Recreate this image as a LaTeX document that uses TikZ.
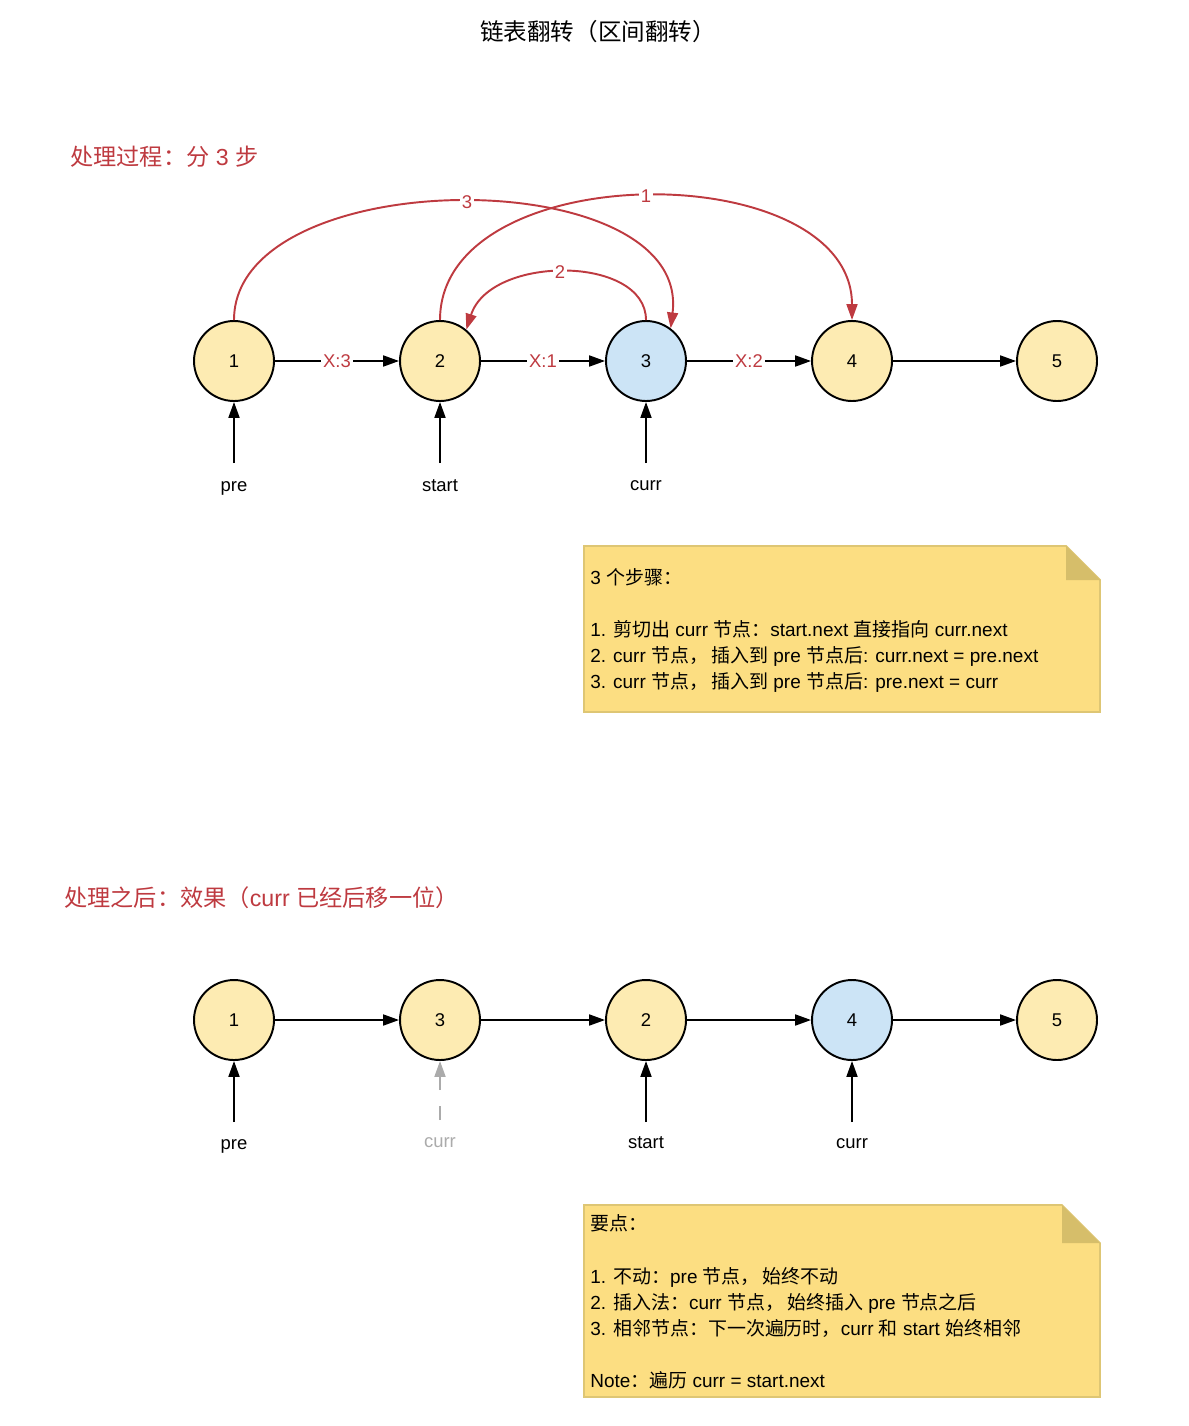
\documentclass[tikz,border=0pt]{standalone}
\usepackage{fontspec}
\setmainfont{Liberation Sans}
\newfontfamily\cjk{Noto Sans CJK SC}
\usetikzlibrary{arrows.meta}
\newcommand{\zh}[1]{{\cjk #1}}
\definecolor{nodeY}{HTML}{FDEBB2}
\definecolor{nodeB}{HTML}{CCE4F6}
\definecolor{redc}{HTML}{BE3A40}
\definecolor{noteF}{HTML}{FCDE82}
\definecolor{noteE}{HTML}{DEC674}
\definecolor{noteD}{HTML}{D6BE6A}
\definecolor{greyc}{HTML}{ABABAB}

\begin{document}
\begin{tikzpicture}[x=0.02cm, y=-0.02cm,
  nd/.style={circle, draw, line width=1.1pt, minimum size=1.6cm, inner sep=0pt, fill=nodeY, font=\fontsize{10.5}{12}\selectfont},
  arr/.style={-{Triangle[length=9pt, width=6.2pt]}, line width=1.1pt},
  rarr/.style={arr, redc},
  lab/.style={anchor=base, inner sep=0pt, font=\fontsize{10.5}{12}\selectfont},
  elab/.style={text=redc, fill=white, inner sep=1pt, font=\fontsize{10.5}{12}\selectfont},
  txt/.style={anchor=base west, inner sep=0pt, font=\fontsize{10.8}{12}\selectfont},
  head/.style={anchor=base west, inner sep=0pt, text=redc, font=\fontsize{13.2}{16}\selectfont}]
\useasboundingbox (0,0) rectangle (1188,1426);
% title and headings
\node[anchor=base, inner sep=0pt, font=\cjk\fontsize{13.4}{16}\selectfont] (title) at (598,41) {链表翻转（区间翻转）};
\node[head] (h1) at (70,165) {\zh{处理过程：分} 3 \zh{步}};
\node[head] (h2) at (64,906) {\zh{处理之后：效果（}curr \zh{已经后移一位）}};

% list before
\node[nd] (a1) at (234,361) {1};
\node[nd] (a2) at (440,361) {2};
\node[nd, fill=nodeB] (a3) at (646,361) {3};
\node[nd] (a4) at (852,361) {4};
\node[nd] (a5) at (1057,361) {5};
\draw[arr] (a1) -- node[elab] {X:3} (a2);
\draw[arr] (a2) -- node[elab] {X:1} (a3);
\draw[arr] (a3) -- node[elab] {X:2} (a4);
\draw[arr] (a4) -- (a5);
% the three re-links
\draw[rarr] (a1.north) .. controls +(0,-158) and +(21,-168) .. (a3.53) node[pos=0.51, elab] {3};
\draw[rarr] (a2.north) .. controls +(0,-165) and +(0,-165) .. (a4.north) node[pos=0.5, elab] {1};
\draw[rarr] (a3.north) .. controls +(0,-65) and +(24,-75) .. (a2.50) node[pos=0.52, elab] {2};
% pointers
\coordinate (p1) at (234,463);
\coordinate (p2) at (440,463);
\coordinate (p3) at (646,463);
\draw[arr] (p1) -- (a1);
\draw[arr] (p2) -- (a2);
\draw[arr] (p3) -- (a3);
\node[lab] (l1) at (234,491) {pre};
\node[lab] (l2) at (440,491) {start};
\node[lab] (l3) at (646,490) {curr};

% note: steps
\draw[fill=noteF, draw=noteE, line width=1pt] (584,546) -- (1066,546) -- (1100,580) -- (1100,712) -- (584,712) -- cycle;
\fill[noteD] (1066,546) -- (1066,580) -- (1100,580) -- cycle;
\node[txt] (s0) at (590,584) {3 \zh{个步骤：}};
\node[txt] (s1) at (590,636) {1. \zh{剪切出} curr \zh{节点：}start.next \zh{直接指向} curr.next};
\node[txt] (s2) at (590,662) {2. curr \zh{节点，\,插入到} pre \zh{节点后}: curr.next = pre.next};
\node[txt] (s3) at (590,688) {3. curr \zh{节点，\,插入到} pre \zh{节点后}: pre.next = curr};

% list after
\node[nd] (b1) at (234,1020) {1};
\node[nd] (b2) at (440,1020) {3};
\node[nd] (b3) at (646,1020) {2};
\node[nd, fill=nodeB] (b4) at (852,1020) {4};
\node[nd] (b5) at (1057,1020) {5};
\draw[arr] (b1) -- (b2);
\draw[arr] (b2) -- (b3);
\draw[arr] (b3) -- (b4);
\draw[arr] (b4) -- (b5);
\coordinate (q1) at (234,1122);
\coordinate (q2) at (440,1120);
\coordinate (q3) at (646,1122);
\coordinate (q4) at (852,1122);
\draw[arr] (q1) -- (b1);
\draw[arr, greyc, dash pattern=on 0.28cm off 0.32cm] (q2) -- (b2);
\draw[arr] (q3) -- (b3);
\draw[arr] (q4) -- (b4);
\node[lab] (m1) at (234,1149) {pre};
\node[lab, text=greyc] (m2) at (440,1147) {curr};
\node[lab] (m3) at (646,1148) {start};
\node[lab] (m4) at (852,1148) {curr};

% note: key points
\draw[fill=noteF, draw=noteE, line width=1pt] (584,1205) -- (1062,1205) -- (1100,1243) -- (1100,1397) -- (584,1397) -- cycle;
\fill[noteD] (1062,1205) -- (1062,1243) -- (1100,1243) -- cycle;
\node[txt] (k0) at (590,1230) {\zh{要点：}};
\node[txt] (k1) at (590,1283) {1. \zh{不动：}pre \zh{节点，\,始终不动}};
\node[txt] (k2) at (590,1309) {2. \zh{插入法：}curr \zh{节点，\,始终插入} pre \zh{节点之后}};
\node[txt] (k3) at (590,1335) {3. \zh{相邻节点：下一次遍历时，}curr \zh{和} start \zh{始终相邻}};
\node[txt] (k4) at (590,1387) {Note\zh{：遍历} curr = start.next};
\end{tikzpicture}
\end{document}
